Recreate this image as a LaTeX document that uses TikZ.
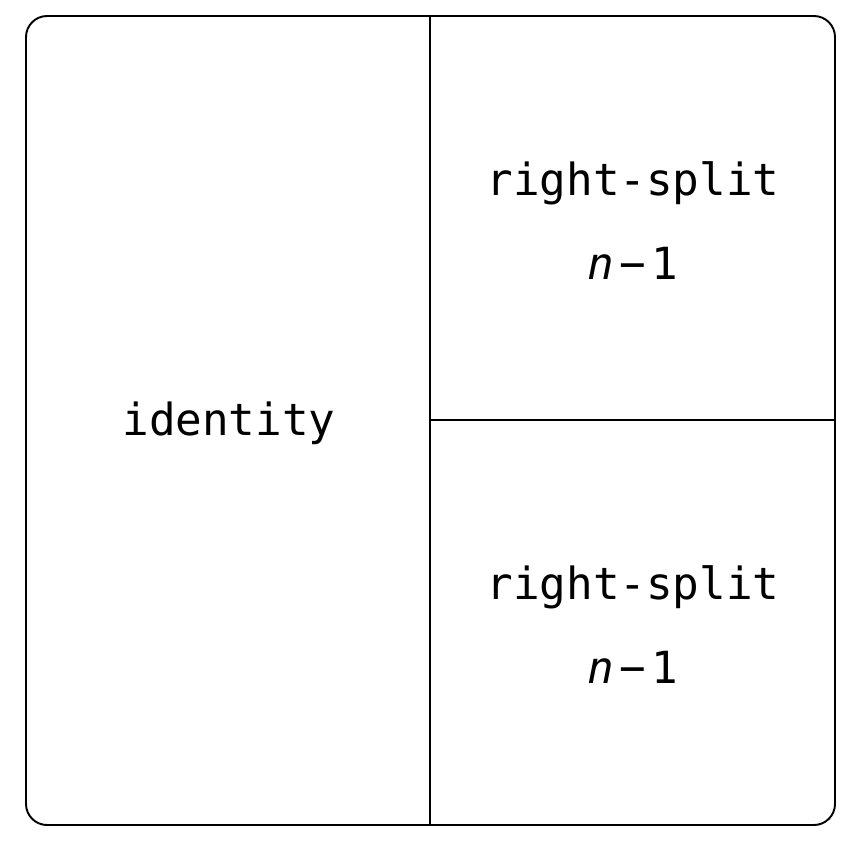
\documentclass[tikz,border=0pt]{standalone}
\usepackage{fontspec}
\setmonofont{DejaVu Sans Mono}
\usetikzlibrary{positioning}

\begin{document}
\begin{tikzpicture} [x=0.02cm, y=-0.02cm, line width=1.1pt,
    lbl/.style={font=\ttfamily\fontsize{25.2}{30}\selectfont, inner sep=0pt, anchor=base}]
\useasboundingbox (0,0) rectangle (865,850);
\coordinate (nw) at (26,16);
\coordinate (se) at (835,825);
\coordinate (top) at (430,16);
\coordinate (bot) at (430,825);
\coordinate (mid) at (430,420);
\coordinate (east) at (835,420);
\draw [rounded corners=12] (nw) rectangle (se);
\draw (top) -- (bot);
\draw (mid) -- (east);
\node (id) [lbl] at (229,435) {identity};
\node (rs1) [lbl] at (633,195) {right-split};
\node (n1) [lbl] at (633,279) {\textit{n}\hspace{0.12em}−\hspace{0.12em}1};
\node (rs2) [lbl] at (633,599) {right-split};
\node (n2) [lbl] at (633,683) {\textit{n}\hspace{0.12em}−\hspace{0.12em}1};
\end{tikzpicture}
\end{document}
